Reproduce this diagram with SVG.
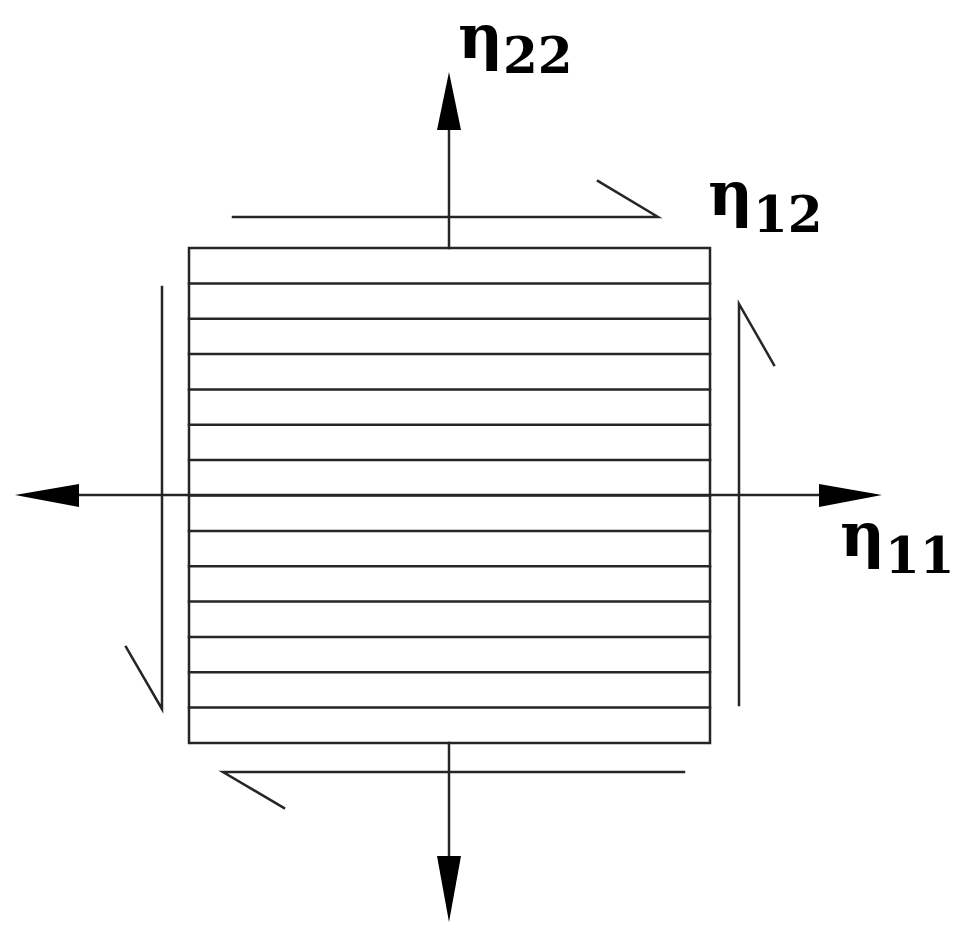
<svg xmlns="http://www.w3.org/2000/svg" width="971" height="935" viewBox="0 0 971 935">
<style>
.ln{stroke:#262626;stroke-width:2.5;fill:none;stroke-linecap:square}
.ah{fill:#000}
.lbl{font-family:"DejaVu Serif","Liberation Serif",serif;font-weight:bold;fill:#000}
</style>
<rect width="971" height="935" fill="#fff"/>
<g id="plate">
<rect class="ln" x="189" y="248" width="521" height="495"/>
<path class="ln" d="M189 283.4H710M189 318.7H710M189 354.1H710M189 389.4H710M189 424.8H710M189 460.1H710M189 495.5H710M189 530.9H710M189 566.2H710M189 601.6H710M189 636.9H710M189 672.3H710M189 707.6H710"/>
</g>
<g id="connectors">
<line class="ln" x1="449" y1="248" x2="449" y2="128"/>
<polygon class="ah" points="449,72 437,130 461,130"/>
<line class="ln" x1="449" y1="743" x2="449" y2="858"/>
<polygon class="ah" points="449,922 437,856 461,856"/>
<line class="ln" x1="80" y1="495" x2="820" y2="495"/>
<polygon class="ah" points="15,495 79,484 79,507"/>
<polygon class="ah" points="882,495 819,484 819,507"/>
</g>
<g id="shear">
<path class="ln" d="M233 217H658L598 181"/>
<path class="ln" d="M739 705V304L774 365"/>
<path class="ln" d="M162 287V709L126 647"/>
<path class="ln" d="M684 772H223L284 808"/>
</g>
<g id="labels">
<text class="lbl" x="458" y="58" font-size="62">η<tspan dy="15" font-size="50">22</tspan></text>
<text class="lbl" x="708" y="215" font-size="62">η<tspan dy="17" font-size="50">12</tspan></text>
<text class="lbl" x="840" y="556" font-size="62">η<tspan dy="17" font-size="50">11</tspan></text>
</g>
</svg>
